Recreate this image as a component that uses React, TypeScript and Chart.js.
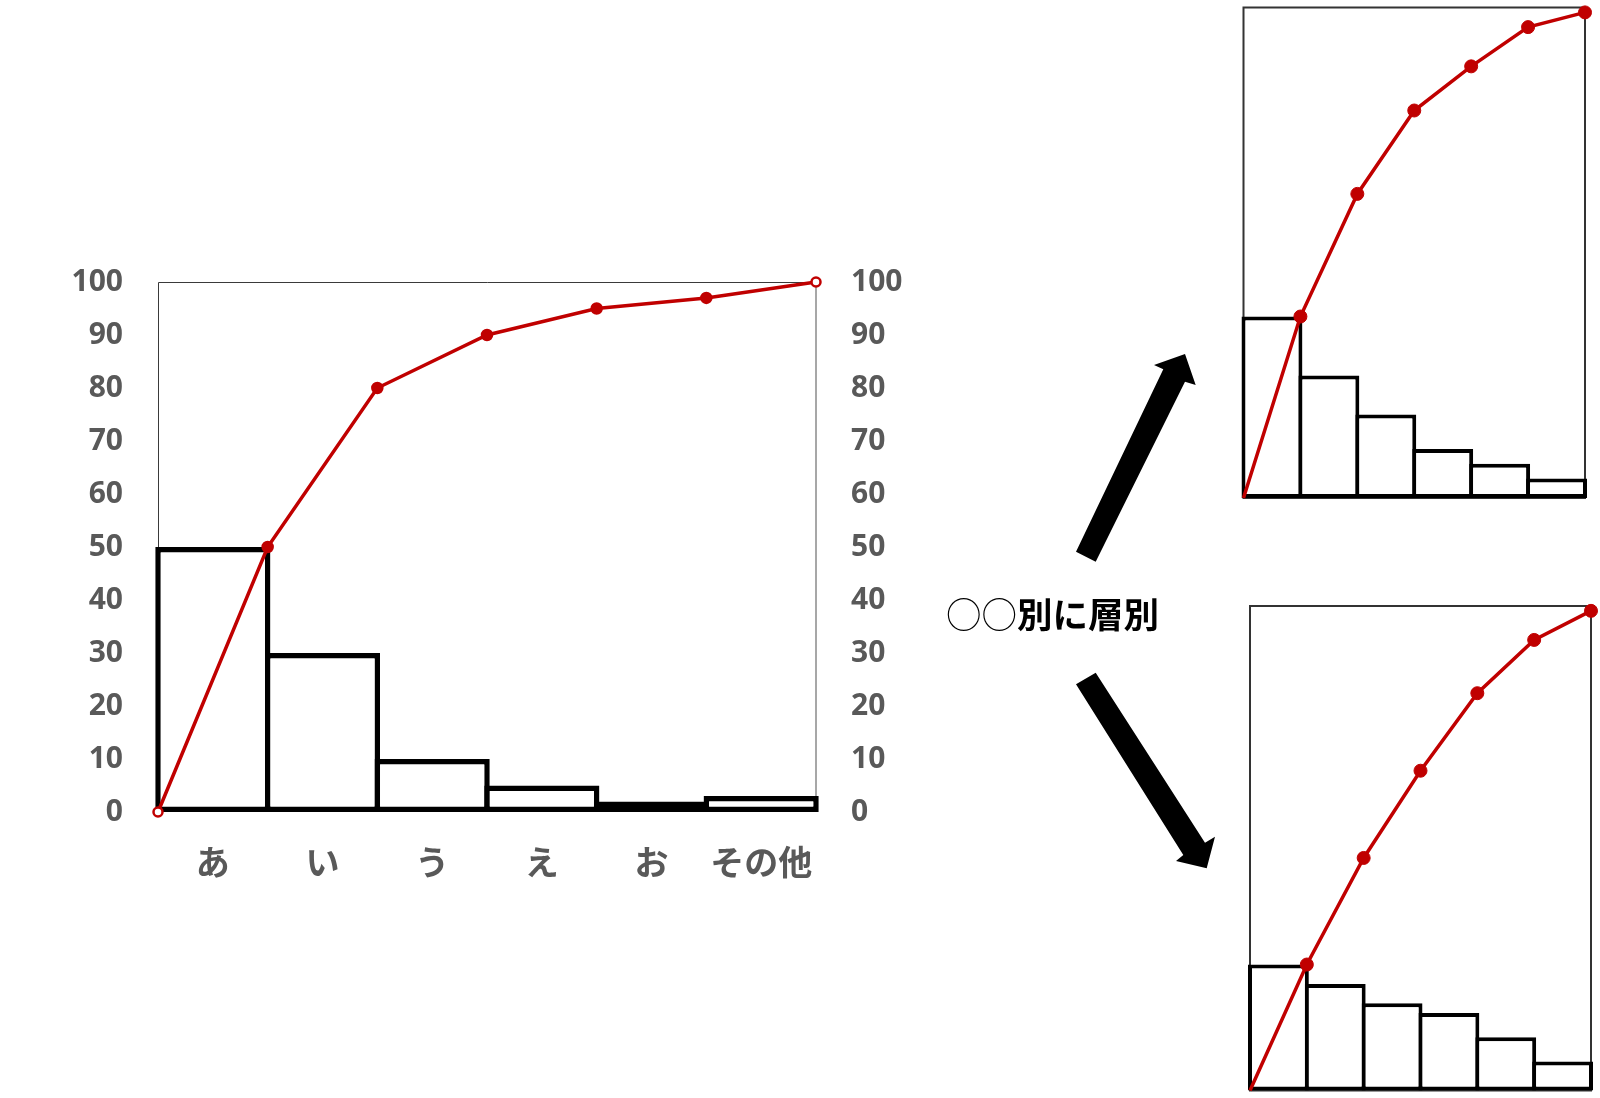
import React, { useEffect, useRef } from 'react';
import { Chart, registerables } from 'chart.js';

Chart.register(...registerables);

// ---- data ----
const mainCategories = ['あ', 'い', 'う', 'え', 'お', 'その他'];
const mainCounts = [50, 30, 10, 5, 2, 3];
const mainCumulative = [0, 50, 80, 90, 95, 97, 100];
const axisMin = 0;
const axisMax = 100;
const axisStep = 10;

const upperCategories = ['1', '2', '3', '4', '5', '6'];
const upperCounts = [37, 25, 17, 10, 7, 4];
const upperCumulative = [0, 37, 62, 79, 88, 96, 99];

const lowerCategories = ['1', '2', '3', '4', '5', '6'];
const lowerCounts = [26, 22, 18, 16, 11, 6];
const lowerCumulative = [0, 26, 48, 66, 82, 93, 99];

const stratifyLabel = '別に層別';
const stratifyPrefix = '○○';

const RED = '#C00000';
const GRAY_TEXT = '#595959';

type Box = { left: number; top: number; width: number; height: number };

type ParetoProps = {
  box: Box;
  categories: string[];
  counts: number[];
  cumulative: number[];
  area: { left: number; top: number; right: number; bottom: number };
  showAxes: boolean;
  barBorder: number;
  lineWidth: number;
  pointRadius: number;
  hollowEnds: boolean;
  frameWidth: number;
};

function ParetoChart(p: ParetoProps) {
  const ref = useRef<HTMLCanvasElement | null>(null);
  useEffect(() => {
    if (!ref.current) return;
    const { box, area } = p;
    const plotW = area.right - area.left;
    const catW = plotW / p.categories.length;
    const barPct = 1 + p.barBorder / catW;
    const n = p.cumulative.length;

    const pointBg = p.cumulative.map((_, i) =>
      p.hollowEnds && (i === 0 || i === n - 1) ? '#ffffff' : RED
    );
    const pointR = p.cumulative.map((_, i) =>
      p.hollowEnds ? (i === 0 || i === n - 1 ? p.pointRadius - 0.5 : p.pointRadius) : i === 0 ? 0 : p.pointRadius
    );

    const frame = {
      id: 'frame',
      beforeDatasetsDraw(chart: any) {
        const { ctx, chartArea: a } = chart;
        ctx.save();
        if (p.showAxes) {
          ctx.lineWidth = 1;
          ctx.strokeStyle = '#3a3a3a';
          ctx.beginPath();
          ctx.moveTo(a.left + 0.5, a.bottom);
          ctx.lineTo(a.left + 0.5, a.top + 0.5);
          ctx.lineTo(a.right, a.top + 0.5);
          ctx.stroke();
          ctx.strokeStyle = '#8a8a8a';
          ctx.lineWidth = 1.5;
          ctx.beginPath();
          ctx.moveTo(a.right, a.top);
          ctx.lineTo(a.right, a.bottom);
          ctx.stroke();
        } else {
          ctx.lineWidth = p.frameWidth;
          ctx.strokeStyle = '#333333';
          ctx.strokeRect(a.left, a.top, a.right - a.left, a.bottom - a.top);
        }
        ctx.restore();
      },
    };

    const tickFont = { family: '"Open Sans", Lato, sans-serif', size: 30, weight: 'bold' as const };
    const catFont = { family: '"Noto Sans CJK JP", sans-serif', size: 34, weight: 'bold' as const };

    const padLeft = p.showAxes ? 0 : area.left - box.left;
    const padRight = p.showAxes ? 0 : box.left + box.width - area.right;
    const padTop = area.top - box.top;
    const padBottom = p.showAxes ? 0 : Math.max(0, box.top + box.height - area.bottom - 2);

    const fitX = p.showAxes
      ? (s: any) => {
          s.height = box.top + box.height - area.bottom;
        }
      : undefined;
    const fitY = p.showAxes
      ? (s: any) => {
          s.width = area.left - box.left;
        }
      : undefined;
    const fitY2 = p.showAxes
      ? (s: any) => {
          s.width = box.left + box.width - area.right;
        }
      : undefined;

    const chart = new Chart(ref.current, {
      type: 'bar',
      data: {
        labels: p.categories,
        datasets: [
          {
            type: 'line' as const,
            data: p.cumulative.map((v, i) => ({ x: i, y: v })),
            xAxisID: 'xl',
            yAxisID: 'y',
            borderColor: RED,
            borderWidth: p.lineWidth,
            pointRadius: pointR,
            pointBackgroundColor: pointBg,
            pointBorderColor: RED,
            pointBorderWidth: p.hollowEnds ? 2.5 : 1,
            tension: 0,
            clip: false as any,
            order: 0,
          } as any,
          {
            type: 'bar' as const,
            data: p.counts,
            xAxisID: 'x',
            yAxisID: 'y',
            backgroundColor: '#ffffff',
            borderColor: '#000000',
            borderWidth: p.barBorder,
            borderSkipped: false,
            barPercentage: barPct,
            categoryPercentage: 1,
            grouped: false,
            clip: false as any,
            order: 1,
          } as any,
        ],
      },
      options: {
        animation: false,
        responsive: false,
        devicePixelRatio: 1,
        layout: { padding: { left: padLeft, right: padRight, top: padTop, bottom: padBottom } },
        plugins: { legend: { display: false }, tooltip: { enabled: false } },
        scales: {
          x: {
            type: 'category',
            display: p.showAxes,
            offset: true,
            grid: { display: false, drawTicks: false },
            border: { display: false },
            ticks: { font: catFont, color: GRAY_TEXT, padding: 30, autoSkip: false, maxRotation: 0 },
            afterFit: fitX,
          },
          xl: {
            type: 'linear',
            display: false,
            offset: false,
            grid: { offset: false },
            min: 0,
            max: p.categories.length,
          },
          y: {
            type: 'linear',
            position: 'left',
            display: p.showAxes,
            min: axisMin,
            max: axisMax,
            grid: { display: false, drawTicks: false },
            border: { display: false },
            ticks: { stepSize: axisStep, font: tickFont, color: GRAY_TEXT, padding: 35 },
            afterFit: fitY,
          },
          y2: {
            type: 'linear',
            position: 'right',
            display: p.showAxes,
            min: axisMin,
            max: axisMax,
            grid: { display: false, drawTicks: false },
            border: { display: false },
            ticks: { stepSize: axisStep, font: tickFont, color: GRAY_TEXT, padding: 35 },
            afterFit: fitY2,
          },
        },
      } as any,
      plugins: [frame],
    });
    return () => chart.destroy();
  }, []);
  return (
    <canvas
      ref={ref}
      width={p.box.width}
      height={p.box.height}
      style={{
        position: 'absolute',
        left: p.box.left,
        top: p.box.top,
        width: p.box.width,
        height: p.box.height,
      }}
    />
  );
}

export default function App() {
  return (
    <div
      style={{
        position: 'absolute',
        left: 0,
        top: 0,
        width: 1600,
        height: 1098,
        background: '#ffffff',
        overflow: 'hidden',
      }}
    >
      <ParetoChart
        box={{ left: 0, top: 210, width: 960, height: 700 }}
        area={{ left: 158, top: 282, right: 816, bottom: 812 }}
        categories={mainCategories}
        counts={mainCounts}
        cumulative={mainCumulative}
        showAxes={true}
        barBorder={5.5}
        lineWidth={3.5}
        pointRadius={5}
        hollowEnds={true}
        frameWidth={1}
      />
      <ParetoChart
        box={{ left: 1230, top: 0, width: 370, height: 510 }}
        area={{ left: 1243.5, top: 5, right: 1585, bottom: 496 }}
        categories={upperCategories}
        counts={upperCounts}
        cumulative={upperCumulative}
        showAxes={false}
        barBorder={4}
        lineWidth={3.5}
        pointRadius={6.5}
        hollowEnds={false}
        frameWidth={2}
      />
      <ParetoChart
        box={{ left: 1236, top: 592, width: 364, height: 506 }}
        area={{ left: 1250, top: 606, right: 1591, bottom: 1095 }}
        categories={lowerCategories}
        counts={lowerCounts}
        cumulative={lowerCumulative}
        showAxes={false}
        barBorder={4}
        lineWidth={3.5}
        pointRadius={6.5}
        hollowEnds={false}
        frameWidth={2}
      />
      <svg
        width={1600}
        height={1098}
        style={{ position: 'absolute', left: 0, top: 0, pointerEvents: 'none' }}
      >
        <polygon
          fill="#000"
          points="1076,551.7 1163.3,369.3 1154,365 1185,354 1195.7,385 1185,381.7 1095.7,561.7"
        />
        <polygon
          fill="#000"
          points="1076,684.3 1095.7,672.7 1205,842.7 1215,836.7 1206.7,868.3 1176,861 1183.3,855"
        />
      </svg>
      <div
        style={{
          position: 'absolute',
          left: 946,
          top: 595,
          fontFamily: '"Noto Sans CJK JP", sans-serif',
          fontSize: 35.5,
          lineHeight: '35.5px',
          fontWeight: 'bold',
          color: '#000',
          whiteSpace: 'nowrap',
        }}
      >
        <span style={{ fontWeight: 300 }}>{stratifyPrefix}</span>
        {stratifyLabel}
      </div>
    </div>
  );
}
